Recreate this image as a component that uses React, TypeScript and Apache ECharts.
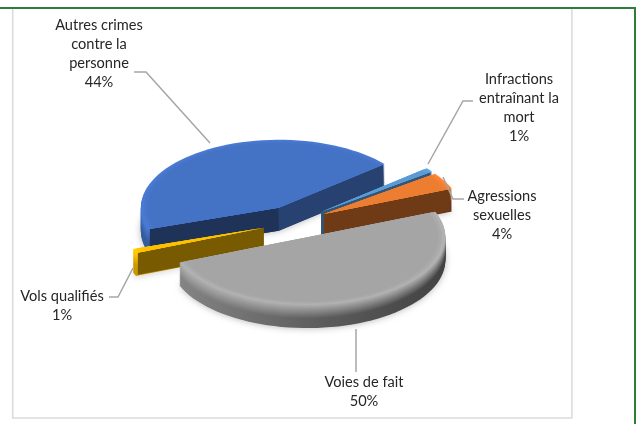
import React, { useEffect, useRef } from "react";
import * as echarts from "echarts";

const categories = ["Infractions entraînant la mort", "Agressions sexuelles", "Voies de fait", "Vols qualifiés", "Autres crimes contre la personne"];
const percentages = [1, 4, 50, 1, 44];
const sliceColors = ["#5b9bd5", "#ed7d31", "#a5a5a5", "#ffc000", "#4472c4"];

const labelLines = [
  ["Infractions", "entraînant la", "mort"],
  ["Agressions", "sexuelles"],
  ["Voies de fait"],
  ["Vols qualifiés"],
  ["Autres crimes", "contre la", "personne"],
];
const labelAnchors = [
  { x: 519, y: 78, step: 19.3 },
  { x: 502, y: 195, step: 19 },
  { x: 364, y: 381, step: 19 },
  { x: 62, y: 295, step: 19 },
  { x: 99, y: 24, step: 19.3 },
];
const leaders = [
  [[473, 101], [463, 101], [428, 164]],
  [[464, 199], [453, 199], [443, 177]],
  [[356, 329], [356, 372]],
  [[109, 297], [118, 297], [133, 268]],
  [[134, 72], [146, 72], [210, 143]],
];

const CX = 295, CY = 222, RX = 138, RY = 68, EXPLODE = 0.24, DEPTH = 23, START = -40;
const FONT = '14.6px Lato, "Noto Sans", sans-serif';
const drawOrder = [4, 0, 1, 3, 2];

function shade(hex: string, f: number) {
  const n = parseInt(hex.slice(1), 16);
  const c = [(n >> 16) & 255, (n >> 8) & 255, n & 255].map((v) => Math.min(255, Math.round(v * f)));
  return `rgb(${c[0]},${c[1]},${c[2]})`;
}
const rad = (d: number) => (d * Math.PI) / 180;

function sliceAngles() {
  const total = percentages.reduce((a, b) => a + b, 0);
  let a = START;
  return percentages.map((v) => {
    const s = a;
    a += (v / total) * 360;
    return [s, a];
  });
}

function renderSlice(params: any, api: any) {
  const idx = api.value(0);
  const [s, e] = sliceAngles()[idx];
  const color = sliceColors[idx];
  const m = rad((s + e) / 2);
  const ax = CX + RX * EXPLODE * Math.cos(m);
  const ay = CY + RY * EXPLODE * Math.sin(m);
  const pts = (dy: number, r: number) => {
    const out: number[][] = [[ax, ay + dy]];
    const n = Math.max(3, Math.ceil((e - s) / 3));
    for (let i = 0; i <= n; i++) {
      const t = rad(s + ((e - s) * i) / n);
      out.push([ax + r * RX * Math.cos(t), ay + dy + r * RY * Math.sin(t)]);
    }
    return out;
  };
  const children: any[] = [];
  const N = 23;
  for (let i = N; i >= 1; i--) {
    const f = i / N;
    const k = Math.min(1, (f - 0.05) / 0.55);
    const left = 1.05 - 0.25 * k;
    const right = 1.0 - 0.6 * k;
    const style: any = {
      fill: new echarts.graphic.LinearGradient(0, 0, 1, 0, [
        { offset: 0, color: shade(color, left) },
        { offset: 0.55, color: shade(color, (left + right) / 2 - 0.05 * k) },
        { offset: 1, color: shade(color, right) },
      ]),
    };
    if (i === N) {
      style.shadowBlur = 7;
      style.shadowColor = "rgba(0,0,0,0.3)";
    }
    children.push({ type: "polygon", shape: { points: pts((DEPTH * i) / N, 1) }, style });
  }
  const wall = (angle: number, normal: number) => {
    const t = rad(angle);
    const ox = ax + 0.985 * RX * Math.cos(t);
    const oy = ay + 0.985 * RY * Math.sin(t);
    const k = 0.32 + 0.4 * Math.cos(rad(normal));
    children.push({
      type: "polygon",
      shape: { points: [[ax, ay], [ox, oy], [ox, oy + DEPTH - 1], [ax, ay + DEPTH]] },
      style: { fill: shade(color, k) },
    });
  };
  if (Math.sin(rad(s - 90)) > 0) wall(s, s - 90);
  if (Math.sin(rad(e + 90)) > 0) wall(e, e + 90);
  children.push({ type: "polygon", shape: { points: pts(0, 1) }, style: { fill: shade(color, 1.07) } });
  children.push({ type: "polygon", shape: { points: pts(0, 0.975) }, style: { fill: shade(color, 1.03) } });
  children.push({ type: "polygon", shape: { points: pts(0, 0.95) }, style: { fill: color } });
  return { type: "group", children };
}

export default function App() {
  const ref = useRef<HTMLDivElement>(null);
  useEffect(() => {
    document.body.style.margin = "0";
    const chart = echarts.init(ref.current!, null, { renderer: "svg" });
    const texts: any[] = [];
    labelLines.forEach((lines, i) => {
      const a = labelAnchors[i];
      [...lines, `${percentages[i]}%`].forEach((t, j) => {
        texts.push({
          type: "text", z: 10, x: a.x, y: a.y + j * a.step,
          style: { text: t, font: FONT, fill: "#262626", align: "center", verticalAlign: "middle" },
        });
      });
    });
    const lines = leaders.map((p) => ({
      type: "polyline", z: 9, shape: { points: p },
      style: { stroke: "#a6a6a6", lineWidth: 1.5, fill: "none" },
    }));
    const frame = [
      { type: "rect", z: 0, shape: { x: 12.7, y: 8, width: 559.2, height: 410 }, style: { fill: "#fff", stroke: "#dcdcdc", lineWidth: 1.6 } },
      { type: "line", z: 1, shape: { x1: 0, y1: 8, x2: 636, y2: 8 }, style: { stroke: "#2e7d3a", lineWidth: 2 } },
      { type: "line", z: 1, shape: { x1: 635, y1: 8, x2: 635, y2: 424 }, style: { stroke: "#2e7d3a", lineWidth: 2 } },
    ];
    chart.setOption({
      animation: false,
      graphic: [...frame, ...lines, ...texts],
      series: [
        {
          type: "custom",
          coordinateSystem: "none",
          renderItem: renderSlice,
          silent: true,
          z: 5,
          data: drawOrder.map((i) => ({ name: categories[i], value: [i, percentages[i]] })),
        },
      ],
    });
    return () => chart.dispose();
  }, []);
  return <div ref={ref} style={{ position: "fixed", left: 0, top: 0, width: 641, height: 424, background: "#fff", filter: "blur(0.45px)" }} />;
}
